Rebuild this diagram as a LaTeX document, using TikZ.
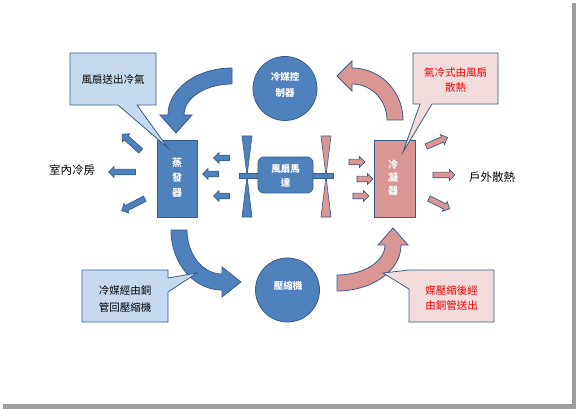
\documentclass[tikz,border=0pt]{standalone}
\usepackage{fontspec}
\setmainfont{Noto Sans CJK TC}
\usetikzlibrary{shapes.arrows}
\definecolor{bfill}{HTML}{4F81BD}
\definecolor{bline}{HTML}{385D8A}
\definecolor{pfill}{HTML}{D99694}
\definecolor{lbfill}{HTML}{C6D9F1}
\definecolor{lpfill}{HTML}{F2DCDB}
\definecolor{redtxt}{HTML}{F00000}
\tikzset{
  bluebox/.style={fill=bfill,draw=bline,line width=0.8pt},
  pinkbox/.style={fill=pfill,draw=bline,line width=0.8pt},
  wtext/.style={text=white,font=\fontsize{9.5}{14}\selectfont\bfseries,align=center,inner sep=0pt},
  ktext/.style={text=black,font=\fontsize{10.5}{17}\selectfont,align=center,inner sep=0pt},
  rtext/.style={text=redtxt,font=\fontsize{10.5}{15}\selectfont,align=center,inner sep=0pt},
  sarrow/.style={single arrow,draw=bline,line width=0.7pt,fill=#1,inner xsep=0pt,inner ysep=2.5pt,
    text height=0pt,text depth=0pt,single arrow head extend=2.5pt},
  calloutb/.style={fill=lbfill,draw=bline,line width=0.8pt},
  calloutp/.style={fill=lpfill,draw=bline,line width=0.8pt},
}
\begin{document}
\begin{tikzpicture}[x=1pt,y=-1pt]
\useasboundingbox (0,0) rectangle (576,409);
\fill[white] (0,0) rectangle (576,409);
% page shadow
\fill[gray!75] (572,3) rectangle (576,409);
\fill[gray!75] (3,404) rectangle (576,409);

% curved arrows
\filldraw[bluebox] plot[domain=270:180,samples=30] ({232+64*cos(\x)},{115+47*sin(\x)})
  -- (160,115) -- (176,133) -- (192,115)
  -- plot[domain=180:270,samples=30] ({232+48*cos(\x)},{115+31*sin(\x)}) -- cycle;
\filldraw[pinkbox] plot[domain=0:-90,samples=30] ({352+51*cos(\x)},{120+52*sin(\x)})
  -- (352,61) -- (337,76) -- (352,91)
  -- plot[domain=-90:0,samples=30] ({352+35*cos(\x)},{120+36*sin(\x)}) -- cycle;
\filldraw[bluebox] plot[domain=180:90,samples=30] ({222+51*cos(\x)},{230+60*sin(\x)})
  -- (222,297) -- (241,282) -- (222,267)
  -- plot[domain=90:180,samples=30] ({222+35*cos(\x)},{230+44*sin(\x)}) -- cycle;
\filldraw[pinkbox] plot[domain=90:0,samples=30] ({337+64*cos(\x)},{245+46*sin(\x)})
  -- (408,245) -- (393,228) -- (378,245)
  -- plot[domain=0:90,samples=30] ({337+48*cos(\x)},{245+30*sin(\x)}) -- cycle;

% evaporator and condenser
\node[bluebox,minimum width=40pt,minimum height=77pt,inner sep=0pt] (evap) at (177,178.5) {};
\node[wtext,font=\fontsize{10}{15}\selectfont\bfseries] (evapt) at (177,178) {蒸\\發\\器};
\node[pinkbox,minimum width=41pt,minimum height=77pt,inner sep=0pt] (cond) at (394.5,178.5) {};
\node[wtext,font=\fontsize{10}{13}\selectfont\bfseries] (condt) at (393,178) {冷\\凝\\器};

% fan blades
\filldraw[bluebox,line width=0.6pt] (242,136) -- (252,136) -- (247,176) -- (252,217) -- (242,217) -- (247,176) -- cycle;
\filldraw[pinkbox,line width=0.6pt] (321,136) -- (331,136) -- (326,176) -- (331,217) -- (321,217) -- (326,176) -- cycle;
% shaft
\filldraw[bluebox,line width=0.6pt] (239,173.5) rectangle (333,178.5);
% motor
\node[bluebox,rounded corners=6pt,minimum width=55pt,minimum height=36pt,inner sep=0pt] (motor) at (285.5,175) {};
\node[wtext] (motort) at (285.5,176) {風扇馬\\達};

% circles
\node[bluebox,circle,minimum size=64pt,inner sep=0pt] (ctrl) at (285,88.5) {};
\node[wtext,font=\fontsize{9.5}{16}\selectfont\bfseries] (ctrlt) at (285,85) {冷媒控\\制器};
\node[bluebox,circle,minimum size=64pt,inner sep=0pt] (comp) at (287.5,290) {};
\node[wtext] (compt) at (288,286) {壓縮機};

% small arrows: fan to evaporator
\node[sarrow=bfill,minimum height=16pt,rotate=180] (bi1) at (223,158) {};
\node[sarrow=bfill,minimum height=16pt,rotate=180] (bi2) at (212,174) {};
\node[sarrow=bfill,minimum height=16pt,rotate=180] (bi3) at (223,196) {};
% evaporator out
\node[sarrow=bfill,minimum height=25pt,rotate=138] (bo1) at (132.5,143.5) {};
\node[sarrow=bfill,minimum height=27pt,rotate=180] (bo2) at (123.5,172) {};
\node[sarrow=bfill,minimum height=26pt,rotate=207.5] (bo3) at (134.5,204) {};
% fan to condenser
\node[sarrow=pfill,minimum height=16pt] (pi1) at (355.5,162) {};
\node[sarrow=pfill,minimum height=16pt] (pi2) at (363.5,179) {};
\node[sarrow=pfill,minimum height=16pt] (pi3) at (359.5,196) {};
% condenser out
\node[sarrow=pfill,minimum height=23pt,rotate=23] (po1) at (435.5,142.5) {};
\node[sarrow=pfill,minimum height=22pt] (po2) at (442.5,175) {};
\node[sarrow=pfill,minimum height=23pt,rotate=-26.6] (po3) at (438,203) {};

% callouts
\filldraw[calloutb] (70,53) -- (156,53) -- (156,105) -- (137,105) -- (168,148) -- (118,105) -- (70,105) -- cycle;
\node[ktext] (c1) at (113,80) {風扇送出冷氣};
\filldraw[calloutp] (413,53) -- (498,53) -- (498,104) -- (432,104) -- (403,152) -- (420,104) -- (413,104) -- cycle;
\node[rtext] (c2) at (455.5,80.5) {氣冷式由風扇\\散熱};
\filldraw[calloutb] (82,270) -- (168,270) -- (168,278) -- (197,273) -- (168,292) -- (168,322) -- (82,322) -- cycle;
\node[ktext] (c3) at (125,298.5) {冷媒經由銅\\管回壓縮機};
\filldraw[calloutp] (409,270) -- (494,270) -- (494,322) -- (409,322) -- (409,289) -- (383,273) -- cycle;
\node[rtext] (c4) at (451.5,298.5) {媒壓縮後經\\由銅管送出};

% labels
\node[ktext,font=\fontsize{11.5}{14}\selectfont] (lin) at (72,170) {室內冷房};
\node[ktext,font=\fontsize{11.5}{14}\selectfont] (lout) at (492,177) {戶外散熱};
\end{tikzpicture}
\end{document}
